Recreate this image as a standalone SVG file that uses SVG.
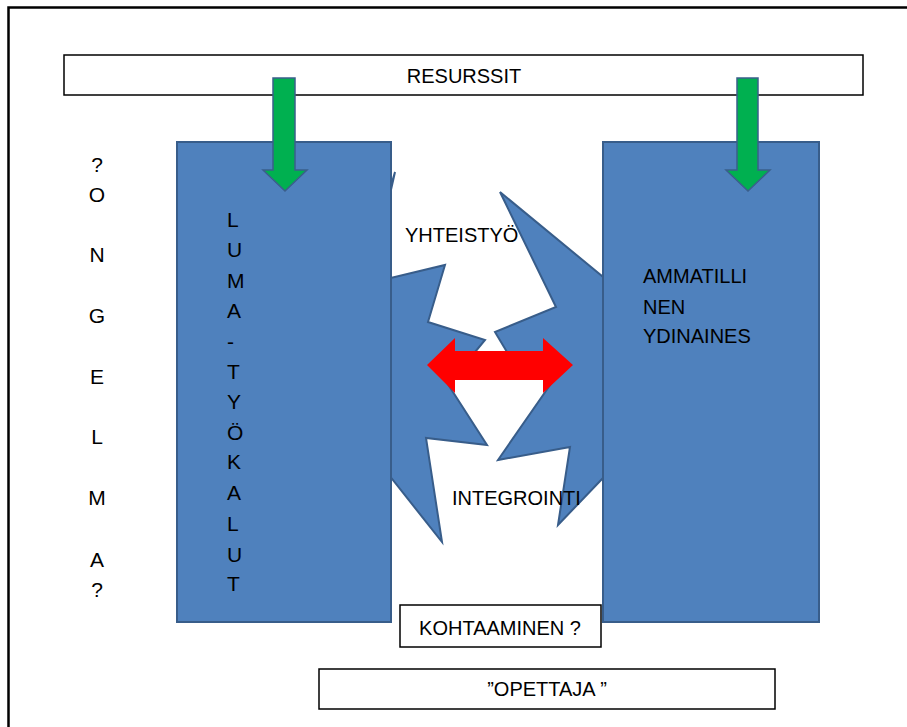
<svg xmlns="http://www.w3.org/2000/svg" width="907" height="727" viewBox="0 0 907 727">
<style>
.t{font-family:"Liberation Sans",Arial,sans-serif;font-size:20px;fill:#000}
.v{font-family:"Liberation Sans",Arial,sans-serif;font-size:21px;fill:#000}
.box{fill:#fff;stroke:#000;stroke-width:1.5}
.blue{fill:#4F81BD;stroke:#385D8A;stroke-width:2}
.green{fill:#00B050;stroke:#3A5F8B;stroke-width:1.5}
</style>
<rect width="907" height="727" fill="#fff"/>
<path d="M8.5,727 V7.5 H907" fill="none" stroke="#000" stroke-width="2.5"/>
<g id="explosion">
<path class="blue" stroke-width="1.5" d="M500,192 L625,295 L625,455 L558,525 L570,447 L498,460 L557,375 L442,375 L487,445 L426,438 L442,542 L370,451 L372,300 L375,240 L395,172 L370,283 L445,265 L428,322 L485,340 L475,352 L507,352 L495,332 L556,307 Z"/>
</g>
<g id="resurssit">
<rect class="box" x="64" y="55" width="799" height="40"/>
<text class="t" x="464" y="83" text-anchor="middle">RESURSSIT</text>
</g>
<g id="luma">
<rect class="blue" x="177" y="142" width="214" height="480"/>
<g class="v">
<text x="227" y="227">L</text>
<text x="227" y="257">U</text>
<text x="227" y="288">M</text>
<text x="227" y="318">A</text>
<text x="227" y="349">-</text>
<text x="227" y="379">T</text>
<text x="227" y="409">Y</text>
<text x="227" y="440">Ö</text>
<text x="227" y="469">K</text>
<text x="227" y="500">A</text>
<text x="227" y="531">L</text>
<text x="227" y="562">U</text>
<text x="227" y="591">T</text>
</g>
</g>
<g id="ammatillinen">
<rect class="blue" x="603" y="142" width="216" height="480"/>
<text class="t" x="643" y="283">AMMATILLI</text>
<text class="t" x="643" y="314">NEN</text>
<text class="t" x="643" y="343">YDINAINES</text>
</g>
<g id="ongelma" class="v" text-anchor="middle">
<text x="97" y="172">?</text>
<text x="97" y="202">O</text>
<text x="97" y="262">N</text>
<text x="97" y="323">G</text>
<text x="97" y="384">E</text>
<text x="97" y="444">L</text>
<text x="97" y="505">M</text>
<text x="97" y="567">A</text>
<text x="97" y="597">?</text>
</g>
<g id="yhteistyo"><text class="t" x="405" y="242">YHTEISTYÖ</text></g>
<g id="integrointi"><text class="t" x="452" y="505">INTEGROINTI</text></g>
<g id="kohtaaminen">
<rect class="box" x="400" y="605" width="201" height="42"/>
<text class="t" x="500" y="635" text-anchor="middle">KOHTAAMINEN ?</text>
</g>
<g id="opettaja">
<rect class="box" x="319" y="669" width="456" height="40"/>
<text class="t" x="547" y="696" text-anchor="middle">”OPETTAJA ”</text>
</g>
<g id="connectors">
<polygon class="green" points="273,78 295,78 295,170 307,170 285,191 263,170 273,170"/>
<polygon class="green" points="737,78 758,78 758,170 770,170 748,191 726,170 737,170"/>
<polygon fill="#FF0000" points="427,365 455,338 455,351 543,351 543,338 573,365 543,393 543,380 455,380 455,393"/>
</g>
</svg>
